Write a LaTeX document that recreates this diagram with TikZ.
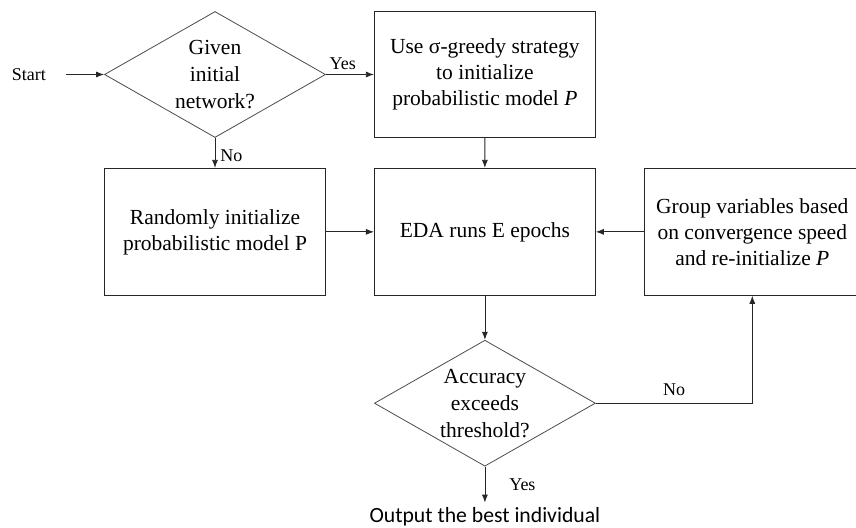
\documentclass[tikz,border=0pt]{standalone}
\usepackage{fontspec}
\setmainfont{Liberation Serif}
\newfontfamily\outfont{Carlito}
\usepackage{tikz}
\usetikzlibrary{shapes.geometric, arrows.meta, positioning}
\tikzstyle{process} = [rectangle, 
minimum width=221pt, 
minimum height=127pt, 
inner sep=0pt,
text centered, 
align=center,
draw=black!85, 
line width=0.9pt,
font=\fontsize{21.5}{26}\selectfont]
\tikzstyle{decision} = [diamond, 
minimum width=221pt, 
minimum height=126pt,
aspect=1.75,
inner sep=0pt,
text centered, 
align=center,
draw=black!70, 
line width=0.8pt,
font=\fontsize{21.5}{27}\selectfont]
\tikzstyle{terminal} = [inner sep=0pt, 
font=\fontsize{18}{21}\selectfont]
\tikzstyle{tag} = [inner sep=2pt, 
font=\fontsize{18}{21}\selectfont]
\tikzstyle{arrow} = [line width=0.8pt, draw=black!85, ->, >={Latex[length=8pt,width=6pt]}]

\begin{document}
\begin{tikzpicture}[x=1pt, y=1pt, node distance=30pt]
\clip (0,0) rectangle (856,-527);
\node (given) [decision] at (215,-74.5) {Given\\initial\\network?};
\node (start) [terminal, left=58pt of given] {Start};
\node (greedy) [process, minimum height=126pt, right=48pt of given] {Use σ-greedy strategy\\to initialize\\probabilistic model \textit{P}};
\node (randinit) [process, below=30pt of given] {Randomly initialize\\probabilistic model P};
\node (eda) [process, right=48pt of randinit] {EDA runs E epochs};
\node (regroup) [process, minimum width=216pt, right=48pt of eda] {Group variables based\\on convergence speed\\and re-initialize \textit{P}};
\node (accuracy) [decision, below=44pt of eda] {Accuracy\\exceeds\\threshold?};
\node (output) [inner xsep=0pt, inner ysep=5pt, font=\outfont\fontsize{21.7}{26}\selectfont, below=36pt of accuracy] {Output the best individual};

\draw [arrow] ([xshift=20pt]start.east) -- (given.west);
\draw [arrow] (given.east) -- node[tag, anchor=south, pos=0.35, yshift=2pt] {Yes} (greedy.west);
\draw [arrow] (given.south) -- node[tag, anchor=west, pos=0.6, xshift=3pt] {No} (randinit.north);
\draw [arrow] (greedy) -- (eda);
\draw [arrow] (randinit) -- (eda);
\draw [arrow] (regroup) -- (eda);
\draw [arrow] (eda) -- (accuracy);
\draw [arrow] (accuracy.south) -- node[tag, anchor=west, xshift=22pt] {Yes} (output.north);
\draw [arrow] (accuracy.east) -| node[tag, anchor=south, pos=0.25, yshift=5pt] {No} (regroup.south);

\end{tikzpicture}
\end{document}
